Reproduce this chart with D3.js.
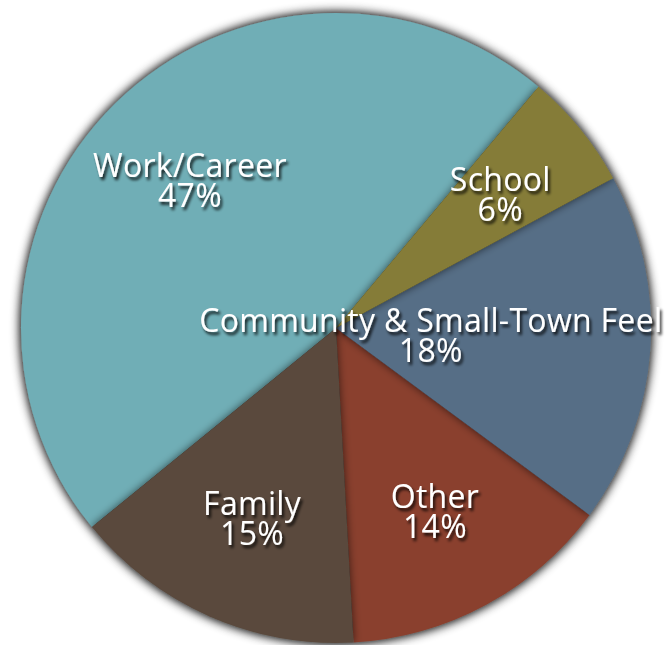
<!DOCTYPE html>
<html>
<head>
<meta charset="utf-8">
<script src="https://cdn.jsdelivr.net/npm/d3@7/dist/d3.min.js"></script>
<style>
  html, body { margin: 0; padding: 0; background: #ffffff; }
  svg { display: block; }
</style>
</head>
<body>
<svg id="chart" width="670" height="645"></svg>
<script>
// Reasons for living in the community (share of responses, %)
const categories = ["Work/Career", "School", "Community & Small-Town Feel", "Other", "Family"];
const values = [47, 6, 18, 14, 15];
const valueLabels = ["47%", "6%", "18%", "14%", "15%"];

const colors = {
  "Work/Career": "#70aeb6",
  "School": "#857c38",
  "Community & Small-Town Feel": "#566e86",
  "Other": "#8a402e",
  "Family": "#5a4a3e"
};

// Slices are stacked so each one's shadow falls on its neighbours
const drawOrder = ["Work/Career", "Other", "Community & Small-Town Feel", "Family", "School"];

const width = 670, height = 645;
const cx = 336, cy = 328, radius = 315;
const startDeg = 230.8;

const svg = d3.select("#chart");
const defs = svg.append("defs");

// soft glow around the whole disc
const glow = defs.append("filter").attr("id", "glow")
  .attr("x", "-20%").attr("y", "-20%").attr("width", "140%").attr("height", "140%");
glow.append("feGaussianBlur").attr("in", "SourceAlpha").attr("stdDeviation", 6).attr("result", "b");
glow.append("feComponentTransfer").attr("in", "b")
  .append("feFuncA").attr("type", "linear").attr("slope", 0.9);

// shadow each slice casts onto the slices below it
const sliceShadow = defs.append("filter").attr("id", "sliceShadow")
  .attr("x", "-30%").attr("y", "-30%").attr("width", "160%").attr("height", "160%");
sliceShadow.append("feGaussianBlur").attr("in", "SourceAlpha").attr("stdDeviation", 4).attr("result", "b");
sliceShadow.append("feComponentTransfer").attr("in", "b").attr("result", "s")
  .append("feFuncA").attr("type", "linear").attr("slope", 0.6);
const m1 = sliceShadow.append("feMerge");
m1.append("feMergeNode").attr("in", "s");
m1.append("feMergeNode").attr("in", "SourceGraphic");

// dark drop shadow behind the white labels
const textShadow = defs.append("filter").attr("id", "textShadow")
  .attr("x", "-20%").attr("y", "-40%").attr("width", "140%").attr("height", "180%");
textShadow.append("feGaussianBlur").attr("in", "SourceAlpha").attr("stdDeviation", 1.6).attr("result", "b");
textShadow.append("feOffset").attr("in", "b").attr("dx", 2).attr("dy", 2.5).attr("result", "o");
textShadow.append("feComponentTransfer").attr("in", "o").attr("result", "s")
  .append("feFuncA").attr("type", "linear").attr("slope", 0.85);
const m2 = textShadow.append("feMerge");
m2.append("feMergeNode").attr("in", "s");
m2.append("feMergeNode").attr("in", "SourceGraphic");

const data = categories.map((c, i) => ({ category: c, value: values[i], label: valueLabels[i] }));

const start = startDeg * Math.PI / 180;
const pie = d3.pie().sort(null).value(d => d.value)
  .startAngle(start).endAngle(start + 2 * Math.PI);
const arcs = pie(data);

const arc = d3.arc().innerRadius(0).outerRadius(radius);

const g = svg.append("g").attr("transform", `translate(${cx},${cy})`);

g.append("circle").attr("r", radius).attr("fill", "#000").attr("filter", "url(#glow)");

const byName = new Map(arcs.map(a => [a.data.category, a]));
g.selectAll("path.slice")
  .data(drawOrder.map(n => byName.get(n)))
  .join("path")
  .attr("class", "slice")
  .attr("d", arc)
  .attr("fill", d => colors[d.data.category])
  .attr("filter", "url(#sliceShadow)");

// label distance from the centre
const labelRadius = c => c === "Community & Small-Town Feel" ? 95 : (c === "School" ? 212 : 208);

const labels = g.selectAll("g.label")
  .data(arcs)
  .join("g")
  .attr("class", "label")
  .attr("transform", d => {
    const r = labelRadius(d.data.category);
    const p = d3.arc().innerRadius(r).outerRadius(r).centroid(d);
    return `translate(${p[0]},${p[1]})`;
  })
  .attr("filter", "url(#textShadow)");

labels.selectAll("text")
  .data(d => [d.data.category, d.data.label])
  .join("text")
  .attr("text-anchor", "middle")
  .attr("font-family", "'Open Sans', 'Liberation Sans', sans-serif")
  .attr("font-size", 32)
  .attr("letter-spacing", 0.3)
  .attr("fill", "#ffffff")
  .attr("x", 0)
  .attr("y", (t, i) => i === 0 ? -3 : 27)
  .text(t => t);
</script>
</body>
</html>
